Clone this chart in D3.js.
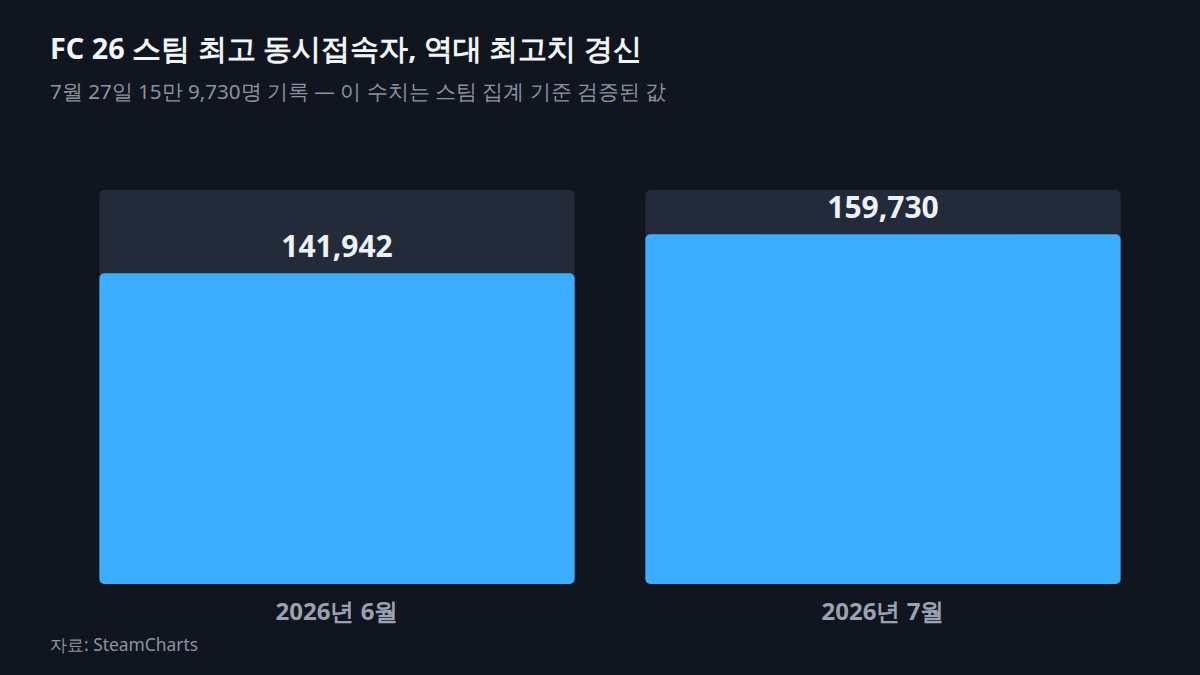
<!DOCTYPE html>
<html>
<head>
<meta charset="utf-8">
<script src="https://cdn.jsdelivr.net/npm/d3@7"></script>
<style>
  html, body { margin: 0; padding: 0; background: #10151f; }
  svg { display: block; font-family: "Noto Sans", sans-serif; }
</style>
</head>
<body>
<div id="chart"></div>
<script>
// data
var months = ["2026년 6월", "2026년 7월"];
var peakPlayers = [141942, 159730];
var domainMax = 180000;

var width = 1200, height = 675;
var margin = { top: 190, right: 80, bottom: 91, left: 100 };

var svg = d3.select("#chart")
  .append("svg")
  .attr("width", width)
  .attr("height", height);

svg.append("rect")
  .attr("width", width)
  .attr("height", height)
  .attr("fill", "#10151f");

// title + subtitle
svg.append("text")
  .attr("x", 50)
  .attr("y", 59)
  .attr("fill", "#f1f4f8")
  .style("font-size", "28.8px")
  .style("font-weight", 700)
  .text("FC 26 스팀 최고 동시접속자, 역대 최고치 경신");

svg.append("text")
  .attr("x", 50)
  .attr("y", 99)
  .attr("fill", "#8c93a1")
  .style("font-size", "20.6px")
  .text("7월 27일 15만 9,730명 기록 — 이 수치는 스팀 집계 기준 검증된 값");

var xScale = d3.scaleBand()
  .domain(months)
  .range([margin.left - 35, width - margin.right + 35])
  .paddingInner(0.1296)
  .paddingOuter(0.063);

var yScale = d3.scaleLinear()
  .domain([0, domainMax])
  .range([height - margin.bottom, margin.top]);

var rows = months.map((m, i) => ({ month: m, value: peakPlayers[i] }));

var g = svg.append("g");

// background tracks
g.selectAll("rect.track")
  .data(rows)
  .enter()
  .append("rect")
  .attr("class", "track")
  .attr("x", d => xScale(d.month))
  .attr("y", yScale(domainMax))
  .attr("width", xScale.bandwidth())
  .attr("height", yScale(0) - yScale(domainMax))
  .attr("rx", 5)
  .attr("fill", "#232b3b");

// bars
g.selectAll("rect.bar")
  .data(rows)
  .enter()
  .append("rect")
  .attr("class", "bar")
  .attr("x", d => xScale(d.month))
  .attr("y", d => yScale(d.value))
  .attr("width", xScale.bandwidth())
  .attr("height", d => yScale(0) - yScale(d.value))
  .attr("rx", 5)
  .attr("fill", "#3daeff");

// value labels
g.selectAll("text.value")
  .data(rows)
  .enter()
  .append("text")
  .attr("class", "value")
  .attr("x", d => xScale(d.month) + xScale.bandwidth() / 2)
  .attr("y", d => yScale(d.value) - 16)
  .attr("text-anchor", "middle")
  .attr("fill", "#eef2f7")
  .style("font-size", "30px")
  .style("font-weight", 700)
  .text(d => d3.format(",")(d.value));

// category axis
var xAxis = d3.axisBottom(xScale).tickSize(0).tickPadding(0);
var axisG = svg.append("g")
  .attr("transform", `translate(0, ${yScale(0)})`)
  .call(xAxis);
axisG.select(".domain").remove();
axisG.selectAll("text")
  .attr("dy", null)
  .attr("y", 36)
  .attr("fill", "#9aa2b2")
  .style("font-family", "'Noto Sans', sans-serif")
  .style("font-size", "24px")
  .style("font-weight", 700);

// source
svg.append("text")
  .attr("x", 50)
  .attr("y", 651)
  .attr("fill", "#8c93a1")
  .style("font-size", "17.4px")
  .text("자료: SteamCharts");
</script>
</body>
</html>
